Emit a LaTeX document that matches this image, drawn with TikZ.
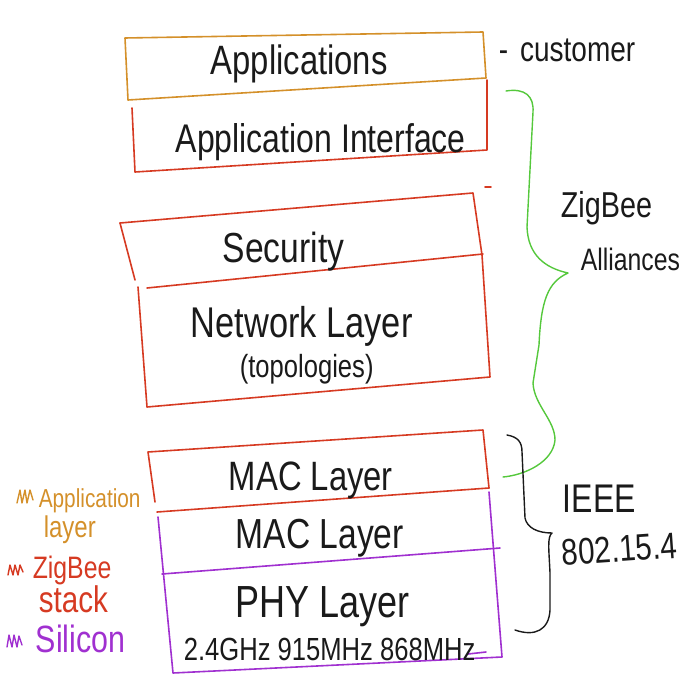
\documentclass[tikz,border=0pt]{standalone}
\usepackage{fontspec}
\setmainfont{Liberation Sans}[FakeStretch=0.8]
\definecolor{ink}{HTML}{1A1A1A}
\definecolor{appc}{HTML}{D4902A}
\definecolor{zbc}{HTML}{D63A22}
\definecolor{sic}{HTML}{A030D0}
\definecolor{grc}{HTML}{55C83C}
\newcommand\fsz[1]{\fontsize{#1}{#1}\selectfont}
\begin{document}
\begin{tikzpicture}[x=1pt,y=-1pt,line width=1.6pt,line cap=round,line join=round,
  lbl/.style={anchor=base west,inner sep=0pt,text=ink},
  appline/.style={draw=appc},
  zbline/.style={draw=zbc},
  siline/.style={draw=sic},
  brace/.style={line width=1.4pt}]
\useasboundingbox (0,0) rectangle (700,700);
% ---------- Applications (orange)
\draw[appline] (125,38) -- (483,32) -- (486,78) -- (128,100) -- cycle;
% ---------- Application Interface (red)
\draw[zbline] (132,108) -- (135,172) -- (487,150) -- (487,80);
\draw[zbline] (485,187) -- (491,187);
% ---------- Security / Network
\draw[zbline] (120,223) -- (135,280);
\draw[zbline] (120,223) -- (473,193) -- (482,255) -- (490,377) -- (147,407) -- (138,287);
\draw[zbline] (147,288) -- (483,254);
% ---------- MAC (red)
\draw[zbline] (155,502) -- (148,452) -- (483,430) -- (489,488);
\draw[zbline] (157,512) -- (489,488);
% ---------- MAC / PHY (purple)
\draw[siline] (158,517) -- (173,673) -- (502,657) -- (489,492);
\draw[siline] (162,574) -- (500,548);
\draw[siline] (468,654) -- (486,652);
% ---------- texts in boxes
\node[lbl,font=\fsz{41}] (tApps) at (210,75) {Applications};
\node[lbl,font=\fsz{40}] (tAI) at (175,153) {Application Interface};
\node[lbl,font=\fsz{42}] (tSec) at (222,262) {Security};
\node[lbl,font=\fsz{43}] (tNet) at (190,337) {Network Layer};
\node[lbl,font=\fsz{32}] (tTop) at (239,377) {(topologies)};
\node[lbl,font=\fsz{41}] (tMac1) at (228,490) {MAC Layer};
\node[lbl,font=\fsz{42}] (tMac2) at (235,548) {MAC Layer};
\node[lbl,font=\fsz{45}] (tPhy) at (235,617) {PHY Layer};
\node[lbl,font=\fsz{32}] (tFreq) at (183,660) {2.4GHz 915MHz 868MHz};
% ---------- right side
\node[lbl,font=\fsz{35}] (tCust) at (498,62) {-\hspace{12pt}customer};
\node[lbl,font=\fsz{36}] (tZig) at (560,218) {ZigBee};
\node[lbl,font=\fsz{31}] (tAll) at (580,270) {Alliances};
\node[lbl,font=\fsz{40}] (tIeee) at (562,512) {IEEE};
\node[lbl,font=\fsz{37},rotate=4] (tStd) at (562,566) {802.15.4};
% green brace
\draw[grc,brace] (506,91) .. controls (525,88) and (534,96) .. (533,112)
  -- (527,227) .. controls (528,255) and (545,268) .. (568,273)
  .. controls (548,282) and (541,300) .. (539,345)
  -- (533,383) .. controls (534,405) and (555,420) .. (555,440)
  .. controls (553,462) and (525,475) .. (503,477);
% black brace
\draw[ink,brace] (507,435) .. controls (518,437) and (522,442) .. (522,452)
  -- (525,518) .. controls (527,528) and (538,533) .. (552,533)
  .. controls (547,537) and (549,550) .. (550,573)
  -- (550,610) .. controls (549,630) and (535,637) .. (515,630);
% ---------- legend
\draw[appc,line width=1.4pt] (17,503) -- (20,490) -- (22,503) -- (25,490) -- (27,503) -- (30,490) -- (33,500);
\node[lbl,font=\fsz{26},text=appc] (lApp) at (38,507) {Application};
\node[lbl,font=\fsz{30},text=appc] (lLay) at (43,537) {layer};
\draw[zbc,line width=1.4pt] (8,575) -- (10,565) -- (13,575) -- (15,565) -- (18,575) -- (20,565) -- (23,572);
\node[lbl,font=\fsz{31},text=zbc] (lZig) at (32,578) {ZigBee};
\node[lbl,font=\fsz{37},text=zbc] (lStk) at (38,612) {stack};
\draw[sic,line width=1.4pt] (7,647) -- (9,635) -- (12,647) -- (14,635) -- (17,647) -- (19,636) -- (22,645);
\node[lbl,font=\fsz{38},text=sic] (lSil) at (35,652) {Silicon};
\end{tikzpicture}
\end{document}
